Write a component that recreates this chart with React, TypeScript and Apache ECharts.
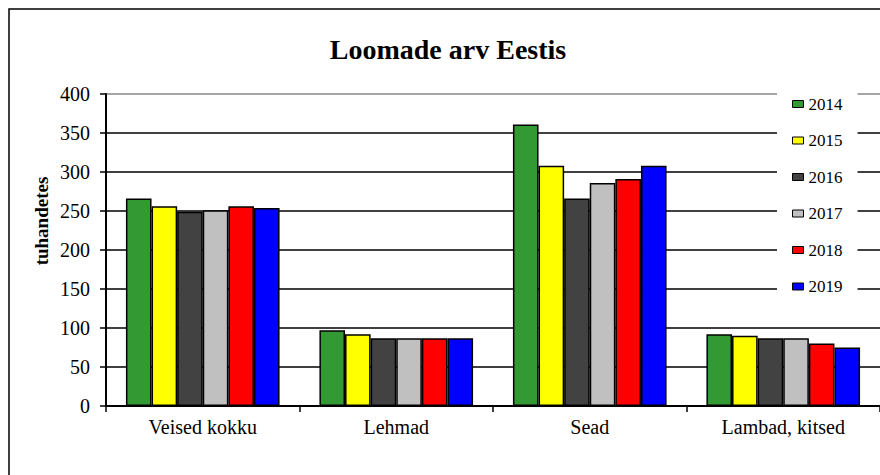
import React, { useEffect, useRef } from "react";
import * as echarts from "echarts";

const categories = ["Veised kokku", "Lehmad", "Sead", "Lambad, kitsed"];
const years = ["2014", "2015", "2016", "2017", "2018", "2019"];
const v2014 = [266, 97, 361, 92];
const v2015 = [256, 92, 308, 90];
const v2016 = [249, 87, 266, 87];
const v2017 = [251, 87, 286, 87];
const v2018 = [256, 87, 291, 80];
const v2019 = [254, 87, 308, 75];
const seriesValues = [v2014, v2015, v2016, v2017, v2018, v2019];
const colors = ["#339933", "#FFFF00", "#424242", "#C0C0C0", "#FF0000", "#0000FF"];
const yTicks = { min: 0, max: 400, interval: 50 };

const FONT = '"Liberation Serif", "Times New Roman", serif';

export default function App() {
  const ref = useRef<HTMLDivElement>(null);
  useEffect(() => {
    if (!ref.current) return;
    const chart = echarts.init(ref.current, undefined, { renderer: "svg" });
    const splitColors: string[] = [];
    const nLines = (yTicks.max - yTicks.min) / yTicks.interval + 1;
    for (let i = 0; i < nLines; i++) splitColors.push(i === nLines - 1 ? "#888888" : "#000000");
    chart.setOption({
      animation: false,
      backgroundColor: "#ffffff",
      textStyle: { fontFamily: FONT, color: "#000" },
      grid: { left: 106, right: -2, top: 94, bottom: 69, containLabel: false },
      graphic: [
        {
          type: "rect",
          shape: { x: 9, y: 9, width: 1000, height: 1000 },
          style: { fill: "none", stroke: "#000", lineWidth: 1.5 },
          silent: true,
        },
        {
          type: "text",
          x: 448,
          y: 49,
          style: {
            text: "Loomade arv Eestis",
            font: `bold 28px ${FONT}`,
            fill: "#000",
            textAlign: "center",
            textVerticalAlign: "middle",
          },
        },
        {
          type: "text",
          x: 41,
          y: 221,
          rotation: Math.PI / 2,
          style: {
            text: "tuhandetes",
            font: `bold 19px ${FONT}`,
            fill: "#000",
            textAlign: "center",
            textVerticalAlign: "middle",
          },
        },
      ],
      legend: {
        orient: "vertical",
        left: 777,
        top: 88,
        backgroundColor: "#ffffff",
        padding: [7, 15, 8, 15],
        itemGap: 18.5,
        itemWidth: 11,
        itemHeight: 7,
        icon: "rect",
        data: years,
        textStyle: { fontFamily: FONT, fontSize: 17, color: "#000", lineHeight: 18 },
        itemStyle: { borderColor: "#000", borderWidth: 1 },
      },
      xAxis: {
        type: "category",
        data: categories,
        axisLine: { lineStyle: { color: "#000", width: 2 } },
        axisTick: { show: true, length: 6, lineStyle: { color: "#000", width: 1.5 } },
        axisLabel: { fontFamily: FONT, fontSize: 20, color: "#000", margin: 11 },
        splitLine: { show: false },
      },
      yAxis: {
        type: "value",
        min: yTicks.min,
        max: yTicks.max,
        interval: yTicks.interval,
        axisLine: { show: true, lineStyle: { color: "#000", width: 2 } },
        axisTick: { show: true, length: 6, lineStyle: { color: "#000", width: 1.5 } },
        axisLabel: { fontFamily: FONT, fontSize: 20, color: "#000", margin: 16 },
        splitLine: { show: true, lineStyle: { color: splitColors, width: 1.5 } },
      },
      series: years.map((y, i) => ({
        name: y,
        type: "bar",
        data: seriesValues[i],
        barGap: "0%",
        barCategoryGap: "20.6%",
        itemStyle: { color: colors[i], borderColor: "#000", borderWidth: 1.5 },
      })),
    });
    return () => chart.dispose();
  }, []);
  return (
    <div
      ref={ref}
      style={{ position: "absolute", left: 0, top: 0, width: 880, height: 475 }}
    />
  );
}
